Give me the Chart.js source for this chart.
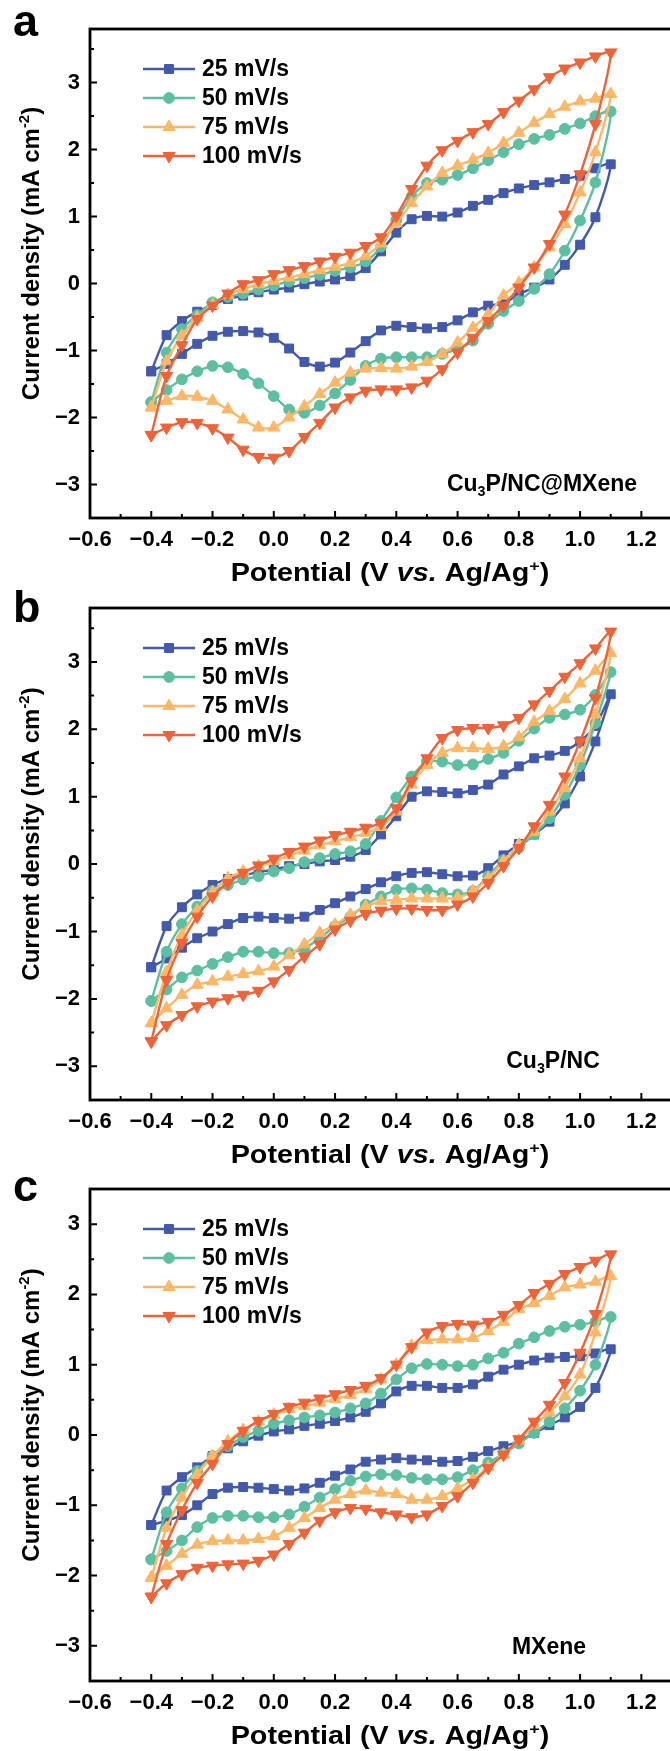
<!DOCTYPE html>
<html>
<head>
<meta charset="utf-8">
<script src="https://cdn.jsdelivr.net/npm/chart.js@4.4.1/dist/chart.umd.min.js"></script>
<style>
  html, body { margin: 0; padding: 0; background: #fff; overflow: hidden; width: 670px; height: 1751px; }
  .panel { position: absolute; left: 0; }
</style>
</head>
<body>
<div class="panel" style="top:0px"><canvas id="chartA" width="680" height="600"></canvas></div>
<div class="panel" style="top:580px"><canvas id="chartB" width="680" height="590"></canvas></div>
<div class="panel" style="top:1160px"><canvas id="chartC" width="680" height="591"></canvas></div>
<script>
(() => {

    // potential sweep: forward -0.4 -> 1.1, then back 1.05 -> -0.4 (V vs. Ag/Ag+)
    const POTENTIAL = [
        -0.4, -0.35, -0.3, -0.25, -0.2, -0.15, -0.1, -0.05, 0, 0.05, 0.1, 0.15, 0.2, 0.25, 0.3, 0.35,
        0.4, 0.45, 0.5, 0.55, 0.6, 0.65, 0.7, 0.75, 0.8, 0.85, 0.9, 0.95, 1.0, 1.05, 1.1,
        1.05, 1.0, 0.95, 0.9, 0.85, 0.8, 0.75, 0.7, 0.65, 0.6, 0.55, 0.5, 0.45, 0.4, 0.35,
        0.3, 0.25, 0.2, 0.15, 0.1, 0.05, 0, -0.05, -0.1, -0.15, -0.2, -0.25, -0.3, -0.35, -0.4
    ];

    const RATES = ['25 mV/s', '50 mV/s', '75 mV/s', '100 mV/s'];

    const X_TICKS = [-0.6, -0.4, -0.2, 0.0, 0.2, 0.4, 0.6, 0.8, 1.0, 1.2];
    const X_MINOR = [-0.5, -0.3, -0.1, 0.1, 0.3, 0.5, 0.7, 0.9, 1.1];
    const Y_TICKS = [-3, -2, -1, 0, 1, 2, 3];
    const Y_MINOR = [-3.5, -2.5, -1.5, -0.5, 0.5, 1.5, 2.5, 3.5];

    // panel a: Cu3P/NC@MXene (mA cm-2)
    const a25 = [
        -1.31, -0.77, -0.56, -0.42, -0.32, -0.23, -0.18, -0.13, -0.09, -0.06, -0.01, 0.03, 0.06, 0.11, 0.23, 0.48,
        0.76, 0.96, 1.01, 1.0, 1.06, 1.16, 1.25, 1.35, 1.42, 1.47, 1.51, 1.56, 1.61, 1.72, 1.78,
        0.99, 0.58, 0.28, 0.06, -0.06, -0.16, -0.30, -0.33, -0.43, -0.55, -0.65, -0.67, -0.65, -0.63, -0.70,
        -0.86, -1.03, -1.18, -1.24, -1.17, -0.97, -0.81, -0.73, -0.71, -0.72, -0.78, -0.90, -1.05, -1.2, -1.31
    ];
    const a50 = [
        -1.77, -1.03, -0.68, -0.47, -0.28, -0.2, -0.15, -0.09, -0.03, 0.03, 0.08, 0.13, 0.19, 0.24, 0.33, 0.55,
        0.95, 1.3, 1.5, 1.55, 1.62, 1.72, 1.84, 1.96, 2.08, 2.16, 2.22, 2.31, 2.39, 2.5, 2.57,
        1.51, 0.94, 0.49, 0.14, -0.08, -0.26, -0.41, -0.6, -0.85, -0.98, -1.05, -1.1, -1.1, -1.1, -1.12,
        -1.23, -1.44, -1.64, -1.82, -1.93, -1.88, -1.68, -1.49, -1.35, -1.25, -1.23, -1.31, -1.43, -1.59, -1.77
    ];
    const a75 = [
        -1.85, -1.16, -0.78, -0.51, -0.32, -0.17, -0.08, -0.01, 0.04, 0.09, 0.14, 0.2, 0.25, 0.31, 0.41, 0.6,
        0.9, 1.2, 1.45, 1.65, 1.76, 1.85, 1.95, 2.1, 2.25, 2.4, 2.53, 2.64, 2.72, 2.76, 2.83,
        1.96, 1.36, 0.89, 0.54, 0.24, 0.01, -0.18, -0.46, -0.66, -0.88, -1.05, -1.17, -1.24, -1.27, -1.26,
        -1.27, -1.33, -1.48, -1.65, -1.83, -2.0, -2.15, -2.15, -2.03, -1.88, -1.75, -1.69, -1.68, -1.75, -1.85
    ];
    const a100 = [
        -2.26, -1.38, -0.92, -0.53, -0.33, -0.15, -0.01, 0.05, 0.14, 0.2, 0.26, 0.33, 0.40, 0.46, 0.56, 0.69,
        1.01, 1.41, 1.76, 1.99, 2.13, 2.26, 2.38, 2.56, 2.73, 2.9, 3.08, 3.21, 3.30, 3.39, 3.45,
        2.38, 1.63, 1.03, 0.59, 0.24, -0.06, -0.33, -0.56, -0.81, -1.03, -1.28, -1.45, -1.55, -1.58, -1.58,
        -1.6, -1.70, -1.85, -2.08, -2.29, -2.5, -2.6, -2.59, -2.48, -2.3, -2.16, -2.08, -2.07, -2.15, -2.26
    ];

    // panel b: Cu3P/NC
    const b25 = [
        -1.53, -0.92, -0.64, -0.45, -0.31, -0.22, -0.17, -0.12, -0.08, -0.03, 0, 0.04, 0.06, 0.11, 0.21, 0.44,
        0.71, 1.0, 1.08, 1.07, 1.05, 1.1, 1.18, 1.33, 1.45, 1.57, 1.61, 1.68, 1.82, 2.05, 2.52,
        1.82, 1.3, 0.9, 0.63, 0.44, 0.3, 0.13, -0.06, -0.17, -0.18, -0.15, -0.12, -0.13, -0.18, -0.27,
        -0.37, -0.48, -0.58, -0.68, -0.78, -0.81, -0.8, -0.78, -0.8, -0.89, -1.0, -1.1, -1.24, -1.4, -1.53
    ];
    const b50 = [
        -2.03, -1.3, -0.89, -0.63, -0.4, -0.31, -0.23, -0.18, -0.11, -0.06, 0.03, 0.09, 0.15, 0.19, 0.3, 0.64,
        0.99, 1.3, 1.52, 1.52, 1.47, 1.48, 1.56, 1.65, 1.83, 2.01, 2.17, 2.22, 2.29, 2.51, 2.85,
        2.09, 1.47, 1.03, 0.68, 0.44, 0.24, 0.06, -0.18, -0.4, -0.45, -0.43, -0.38, -0.36, -0.38, -0.48,
        -0.6, -0.78, -0.92, -1.1, -1.25, -1.32, -1.32, -1.3, -1.3, -1.38, -1.48, -1.58, -1.68, -1.86, -2.03
    ];
    const b75 = [
        -2.36, -1.6, -1.05, -0.69, -0.42, -0.21, -0.11, -0.03, 0.04, 0.13, 0.2, 0.28, 0.34, 0.4, 0.46, 0.55,
        0.78, 1.18, 1.47, 1.65, 1.72, 1.72, 1.71, 1.75, 1.88, 2.11, 2.27, 2.45, 2.68, 2.87, 3.13,
        2.22, 1.57, 1.13, 0.78, 0.48, 0.29, 0.04, -0.21, -0.4, -0.5, -0.51, -0.51, -0.51, -0.53, -0.55,
        -0.63, -0.75, -0.9, -1.02, -1.19, -1.35, -1.52, -1.59, -1.63, -1.67, -1.74, -1.79, -1.94, -2.14, -2.36
    ];
    const b100 = [
        -2.63, -1.72, -1.17, -0.78, -0.48, -0.28, -0.13, -0.02, 0.08, 0.18, 0.26, 0.35, 0.43, 0.48, 0.54, 0.61,
        0.83, 1.23, 1.57, 1.87, 1.99, 2.02, 2.02, 2.06, 2.17, 2.37, 2.57, 2.78, 2.98, 3.2, 3.45,
        2.46, 1.82, 1.3, 0.88, 0.56, 0.24, -0.03, -0.28, -0.48, -0.6, -0.68, -0.68, -0.66, -0.66, -0.69,
        -0.74, -0.84, -0.97, -1.19, -1.37, -1.57, -1.74, -1.88, -1.94, -1.99, -2.04, -2.11, -2.24, -2.39, -2.63
    ];

    // panel c: MXene
    const c25 = [
        -1.28, -0.79, -0.6, -0.46, -0.3, -0.19, -0.09, -0.01, 0.05, 0.08, 0.13, 0.16, 0.2, 0.25, 0.33, 0.45,
        0.62, 0.7, 0.7, 0.67, 0.67, 0.72, 0.83, 0.93, 1.0, 1.06, 1.1, 1.11, 1.12, 1.16, 1.22,
        0.67, 0.4, 0.25, 0.14, 0.03, -0.09, -0.16, -0.23, -0.31, -0.37, -0.38, -0.36, -0.35, -0.33, -0.35,
        -0.38, -0.49, -0.58, -0.68, -0.76, -0.79, -0.77, -0.75, -0.74, -0.75, -0.84, -1.0, -1.14, -1.22, -1.28
    ];
    const c50 = [
        -1.77, -1.1, -0.76, -0.51, -0.3, -0.16, -0.03, 0.06, 0.16, 0.21, 0.25, 0.28, 0.32, 0.38, 0.45, 0.59,
        0.79, 0.95, 1.01, 1.0, 0.98, 1.0, 1.09, 1.17, 1.3, 1.39, 1.48, 1.54, 1.57, 1.61, 1.68,
        1.0, 0.63, 0.38, 0.19, 0.03, -0.12, -0.27, -0.39, -0.5, -0.6, -0.63, -0.63, -0.61, -0.57, -0.56,
        -0.59, -0.65, -0.77, -0.89, -1.02, -1.13, -1.17, -1.17, -1.15, -1.15, -1.18, -1.31, -1.5, -1.65, -1.77
    ];
    const c75 = [
        -2.03, -1.32, -0.89, -0.56, -0.3, -0.09, 0.07, 0.19, 0.29, 0.37, 0.41, 0.46, 0.51, 0.57, 0.65, 0.79,
        1.0, 1.27, 1.35, 1.36, 1.36, 1.38, 1.48, 1.61, 1.79, 1.88, 1.98, 2.1, 2.14, 2.18, 2.26,
        1.46, 0.86, 0.55, 0.32, 0.14, -0.08, -0.28, -0.46, -0.63, -0.76, -0.87, -0.92, -0.92, -0.84, -0.82,
        -0.79, -0.84, -0.92, -1.04, -1.18, -1.32, -1.44, -1.48, -1.5, -1.5, -1.51, -1.56, -1.69, -1.86, -2.03
    ];
    const c100 = [
        -2.3, -1.55, -1.07, -0.68, -0.41, -0.13, 0.06, 0.2, 0.3, 0.4, 0.46, 0.52, 0.58, 0.64, 0.7, 0.81,
        1.0, 1.25, 1.46, 1.55, 1.58, 1.57, 1.61, 1.71, 1.85, 2.02, 2.15, 2.29, 2.39, 2.48, 2.57,
        1.72, 1.17, 0.74, 0.43, 0.19, -0.06, -0.28, -0.47, -0.68, -0.87, -1.01, -1.13, -1.17, -1.13, -1.1,
        -1.05, -1.04, -1.1, -1.22, -1.39, -1.55, -1.7, -1.79, -1.83, -1.84, -1.86, -1.89, -1.98, -2.11, -2.3
    ];

    const COLORES = ['#4259AC', '#5DBFA1', '#FDB767', '#EE6338'];
    const MARCAS = [
        { pointStyle: 'rect', rotation: 0, radius: 6.3 },
        { pointStyle: 'circle', rotation: 0, radius: 5.4 },
        { pointStyle: 'triangle', rotation: 0, radius: 7 },
        { pointStyle: 'triangle', rotation: 180, radius: 7 }
    ];

    const FUENTE = "'Liberation Sans', Arial, sans-serif";

    function menos(txt) {
        return String(txt).replace('-', '\u2212');
    }

    // text with sub / superscripts and italics
    function textoRico(ctx, partes, x, y, size, align, hscale) {
        const medir = (p) => {
            const s = (p.sub || p.sup) ? size * 0.62 : size;
            ctx.font = `${p.it ? 'italic ' : ''}bold ${s}px ${FUENTE}`;
            return ctx.measureText(p.t).width;
        };
        let total = 0;
        partes.forEach(p => total += medir(p));
        ctx.save();
        ctx.translate(x, y);
        ctx.scale(hscale || 1, 1);
        let cx = align === 'center' ? -total / 2 : (align === 'right' ? -total : 0);
        ctx.textBaseline = 'alphabetic';
        ctx.textAlign = 'left';
        ctx.fillStyle = '#000';
        partes.forEach(p => {
            const w = medir(p);
            let dy = 0;
            if (p.sub) dy = size * 0.22;
            if (p.sup) dy = -size * 0.42;
            ctx.fillText(p.t, cx, dy);
            cx += w;
        });
        ctx.restore();
    }

    const decorado = {
        id: 'decorado',
        afterDraw(chart, args, opts) {
            const { ctx, chartArea: a, scales: { x, y } } = chart;
            ctx.save();

            // inward ticks
            ctx.strokeStyle = '#000';
            ctx.lineWidth = 2;
            ctx.beginPath();
            X_TICKS.forEach(v => { const px = x.getPixelForValue(v); ctx.moveTo(px, a.bottom); ctx.lineTo(px, a.bottom - 7); });
            X_MINOR.forEach(v => { const px = x.getPixelForValue(v); ctx.moveTo(px, a.bottom); ctx.lineTo(px, a.bottom - 4); });
            Y_TICKS.forEach(v => { const py = y.getPixelForValue(v); ctx.moveTo(a.left, py); ctx.lineTo(a.left + 7, py); });
            Y_MINOR.forEach(v => {
                if (v > y.max) return;
                const py = y.getPixelForValue(v); ctx.moveTo(a.left, py); ctx.lineTo(a.left + 4, py);
            });
            ctx.stroke();

            // frame
            ctx.lineWidth = 2.8;
            ctx.strokeRect(a.left, a.top, a.right - a.left, a.bottom - a.top);

            // legend
            chart.data.datasets.forEach((ds, i) => {
                const fy = a.top + 40 + i * 29;
                ctx.strokeStyle = ds.borderColor;
                ctx.lineWidth = 2.4;
                ctx.beginPath();
                ctx.moveTo(143, fy);
                ctx.lineTo(195, fy);
                ctx.stroke();
                ctx.fillStyle = ds.backgroundColor;
                ctx.lineWidth = 1;
                Chart.helpers.drawPoint(ctx, {
                    pointStyle: ds.pointStyle, rotation: ds.pointRotation,
                    radius: ds.pointRadius, borderWidth: 1
                }, 169, fy);
                ctx.fillStyle = '#000';
                ctx.font = `bold 23px ${FUENTE}`;
                ctx.textAlign = 'left';
                ctx.textBaseline = 'middle';
                ctx.fillText(ds.label, 202, fy + 1);
            });

            // panel letter
            ctx.fillStyle = '#000';
            ctx.font = `bold 45px ${FUENTE}`;
            ctx.textAlign = 'left';
            ctx.textBaseline = 'alphabetic';
            ctx.fillText(opts.letra, 13, opts.letraY);

            // sample name
            textoRico(ctx, opts.muestra, opts.muestraX, a.bottom - opts.muestraDy, 23, 'center', 1);

            // axis titles
            const cxArea = (a.left + a.right) / 2;
            textoRico(ctx, [
                { t: 'Potential (V ' }, { t: 'vs.', it: true }, { t: ' Ag/Ag' }, { t: '+', sup: true }, { t: ')' }
            ], cxArea + 9, a.bottom + 63, 25, 'center', 1.15);

            ctx.save();
            ctx.translate(39, (a.top + a.bottom) / 2 - 20);
            ctx.rotate(-Math.PI / 2);
            textoRico(ctx, [
                { t: 'Current density (mA cm' }, { t: '-2', sup: true }, { t: ')' }
            ], 0, 0, 24, 'center', 1);
            ctx.restore();

            ctx.restore();
        }
    };

    function crearSeries(valores) {
        return valores.map((serie, i) => ({
            label: RATES[i],
            data: POTENTIAL.map((v, k) => ({ x: v, y: serie[k] })),
            borderColor: COLORES[i],
            backgroundColor: COLORES[i],
            borderWidth: 2.4,
            pointStyle: MARCAS[i].pointStyle,
            pointRotation: MARCAS[i].rotation,
            pointRadius: MARCAS[i].radius,
            pointBorderWidth: 1,
            tension: 0.25,
            order: 3 - i
        }));
    }

    function crearGrafica(id, valores, yMax, areaTop, areaBottom, alto, letra, letraY, muestra, muestraX, muestraDy) {
        const ctx = document.getElementById(id);
        return new Chart(ctx, {
            type: 'line',
            data: { datasets: crearSeries(valores) },
            options: {
                responsive: false,
                animation: false,
                layout: { padding: { top: areaTop, right: 5, left: 0, bottom: 0 } },
                plugins: {
                    legend: { display: false },
                    tooltip: { enabled: false },
                    decorado: { letra: letra, letraY: letraY, muestra: muestra, muestraX: muestraX, muestraDy: muestraDy }
                },
                scales: {
                    x: {
                        type: 'linear',
                        min: -0.6,
                        max: 1.3,
                        grid: { display: false, drawTicks: false },
                        border: { display: false },
                        afterBuildTicks: (s) => { s.ticks = X_TICKS.map(v => ({ value: v })); },
                        afterFit: (s) => { s.height = alto - areaBottom; },
                        ticks: {
                            padding: 9,
                            color: '#000',
                            font: { family: FUENTE, size: 22, weight: 'bold' },
                            callback: (v) => menos(Number(v).toFixed(1))
                        }
                    },
                    y: {
                        min: -3.5,
                        max: yMax,
                        grid: { display: false, drawTicks: false },
                        border: { display: false },
                        afterBuildTicks: (s) => { s.ticks = Y_TICKS.map(v => ({ value: v })); },
                        afterFit: (s) => { s.width = 90; },
                        ticks: {
                            padding: 10,
                            color: '#000',
                            font: { family: FUENTE, size: 22, weight: 'bold' },
                            callback: (v) => menos(v)
                        }
                    }
                }
            },
            plugins: [decorado]
        });
    }

    crearGrafica('chartA', [a25, a50, a75, a100], 3.8, 29, 518, 600, 'a', 36,
        [{ t: 'Cu' }, { t: '3', sub: true }, { t: 'P/NC@MXene' }], 542, 27);
    crearGrafica('chartB', [b25, b50, b75, b100], 3.8, 28, 520, 590, 'b', 42,
        [{ t: 'Cu' }, { t: '3', sub: true }, { t: 'P/NC' }], 553, 32);
    crearGrafica('chartC', [c25, c50, c75, c100], 3.5, 29, 521, 591, 'c', 41,
        [{ t: 'MXene' }], 549, 27);

})();
</script>
</body>
</html>
